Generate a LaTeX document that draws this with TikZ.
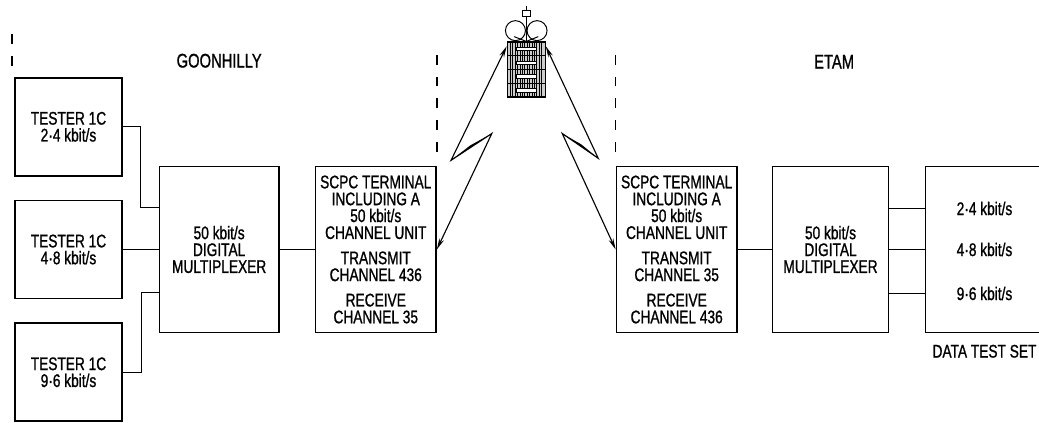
\documentclass[tikz,border=0pt]{standalone}
\usepackage{fontspec}
\setmainfont{Liberation Sans}[FakeStretch=0.75, FakeBold=1]
\usetikzlibrary{arrows.meta, positioning, calc}

\begin{document}
\begin{tikzpicture}[
  unit/.style={rectangle, draw=black, line width=1.1pt, align=center, font=\fontsize{13}{12}\selectfont},
  tester/.style={unit, minimum width=2.675cm, minimum height=2.45cm},
  rack/.style={unit, minimum width=2.95cm, minimum height=4.15cm},
  wire/.style={line width=1pt},
  radio/.style={{Stealth[length=8pt,width=3.5pt]}-{Stealth[length=8pt,width=3.5pt]}, line width=0.8pt},
  divider/.style={line width=1.2pt, dash pattern=on 7pt off 8.5pt},
  site/.style={font=\fontsize{14}{14}\selectfont},
  rate/.style={font=\fontsize{13}{13}\selectfont},
  node distance=0.88cm
]
\useasboundingbox (-1.7125,-4.3125) rectangle (24.2625,6.2375);
\clip (-1.7125,-4.3125) rectangle (24.2625,6.2375);

% Goonhilly end
\node[tester] (t48) at (0,0) {TESTER 1C\\4·8 kbit/s};
\node[tester, above=0.58cm of t48] (t24) {TESTER 1C\\2·4 kbit/s};
\node[tester, below=0.58cm of t48] (t96) {TESTER 1C\\9·6 kbit/s};
\node[rack, minimum width=2.98cm, right=0.9cm of t48] (muxG) {50 kbit/s\\DIGITAL\\MULTIPLEXER};
\node[rack, minimum width=2.95cm, right=of muxG] (scpcG) {SCPC TERMINAL\\INCLUDING A\\50 kbit/s\\CHANNEL UNIT\\[6pt]TRANSMIT\\CHANNEL 436\\[6pt]RECEIVE\\CHANNEL 35};

% Etam end
\node[rack, right=4.47cm of scpcG] (scpcE) {SCPC TERMINAL\\INCLUDING A\\50 kbit/s\\CHANNEL UNIT\\[6pt]TRANSMIT\\CHANNEL 35\\[6pt]RECEIVE\\CHANNEL 436};
\node[rack, minimum width=2.9cm, right=0.85cm of scpcE] (muxE) {50 kbit/s\\DIGITAL\\MULTIPLEXER};
\node[rack, minimum width=4cm, right=of muxE] (dts) {};
\node[rate] (r48) at ([xshift=1.5cm]dts.west) {4·8 kbit/s};
\node[rate] (r24) at ([xshift=1.5cm,yshift=1.025cm]dts.west) {2·4 kbit/s};
\node[rate] (r96) at ([xshift=1.5cm,yshift=-1.1cm]dts.west) {9·6 kbit/s};
\node[rate] (dtsname) at ([xshift=1.5cm,yshift=-0.45cm]dts.south west) {DATA TEST SET};

% station names
\node[site] (goon) at ([yshift=2.625cm]muxG.north) {GOONHILLY};
\node[site] (etam) at ([xshift=0.09cm,yshift=2.6cm]muxE.north) {ETAM};

% wiring
\draw[wire] (t24.east) -- ++(0.45,0) |- ([yshift=1.05cm]muxG.west);
\draw[wire] (t48.east) -- (muxG.west);
\draw[wire] (t96.east) -- ++(0.475,0) |- ([yshift=-1.075cm]muxG.west);
\draw[wire] (muxG.east) -- (scpcG.west);
\draw[wire] (scpcE.east) -- (muxE.west);
\foreach \r in {r24,r48,r96}
  \draw[wire] (muxE.east |- \r) -- (dts.west |- \r);

% boundaries
\draw[divider] ([xshift=-0.05cm,yshift=0.275cm]t24.north west) -- ++(0,0.85);
\draw[divider] ([yshift=0.35cm]scpcG.north east) -- ++(0,2.65);
\draw[divider] ([yshift=0.35cm]scpcE.north west) -- ++(0,2.65);

% satellite
\node[draw, fill=gray!40, line width=0.8pt, minimum width=0.95cm, minimum height=1.375cm, inner sep=0pt]
  (sat) at ($(scpcG.east)!0.5!(scpcE.west)+(0,4.5)$) {};
\begin{scope}[shift={(sat.center)}, line width=0.3pt]
  \foreach \x in {-0.4,-0.34,...,0.41}
    \draw (\x,-0.6875) -- (\x,0.6875);
  \foreach \y in {-0.5156,-0.1719,0.1719,0.5156}
    \draw[fill=white] (-0.26,\y-0.045) rectangle (0.26,\y+0.045);
  \foreach \y in {-0.34375,0,0.34375}
    \draw[line width=0.6pt] (-0.475,\y) -- (0.475,\y);
\end{scope}
\begin{scope}[shift={(sat.north)}, line width=0.7pt]
  \draw (-0.27,0.27) circle (0.25);
  \draw (0.27,0.27) circle (0.25);
  \draw (-0.3,0.12) -- (0,0) -- (0.3,0.12);
  \draw (0,0) -- (0,0.62);
  \draw[fill=white] (-0.1,0.62) rectangle (0.1,0.78);
  \draw (0,0.78) -- (0,0.88);
\end{scope}

% radio paths
\coordinate (zl1) at ($(sat.center)+(-1.88,-2.27)$);
\coordinate (zl2) at ($(sat.center)+(-0.86,-1.6)$);
\coordinate (zr1) at ($(sat.center)+(1.8,-2.22)$);
\coordinate (zr2) at ($(sat.center)+(0.9,-1.6)$);
\draw[radio] ([yshift=-0.12cm]sat.north west) -- (zl1) -- (zl2) -- (scpcG.east);
\draw[radio] ([yshift=-0.12cm]sat.north east) -- (zr1) -- (zr2) -- (scpcE.west);
\fill (zl1) -- ($(zl1)!0.45!(zl2)+(0.02,0.07)$) -- (zl2) -- cycle;
\fill (zr1) -- ($(zr1)!0.45!(zr2)+(-0.02,0.07)$) -- (zr2) -- cycle;
\end{tikzpicture}
\end{document}
